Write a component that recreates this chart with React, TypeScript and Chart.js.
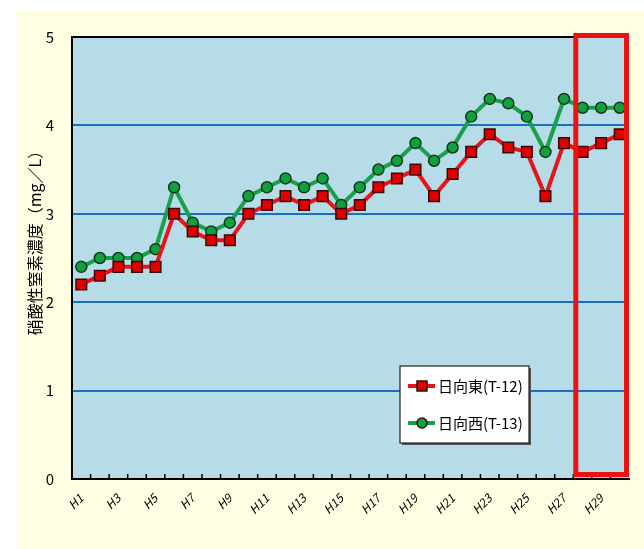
import React, { useEffect, useRef } from "react";
import { Chart, registerables } from "chart.js";

Chart.register(...registerables);

const years: string[] = [
  "H1","H2","H3","H4","H5","H6","H7","H8","H9","H10",
  "H11","H12","H13","H14","H15","H16","H17","H18","H19","H20",
  "H21","H22","H23","H24","H25","H26","H27","H28","H29","H30",
];
const eastLabel = "日向東(T-12)";
const westLabel = "日向西(T-13)";
const eastValues: number[] = [
  2.2, 2.3, 2.4, 2.4, 2.4, 3.0, 2.8, 2.7, 2.7, 3.0,
  3.1, 3.2, 3.1, 3.2, 3.0, 3.1, 3.3, 3.4, 3.5, 3.2,
  3.45, 3.7, 3.9, 3.75, 3.7, 3.2, 3.8, 3.7, 3.8, 3.9,
];
const westValues: number[] = [
  2.4, 2.5, 2.5, 2.5, 2.6, 3.3, 2.9, 2.8, 2.9, 3.2,
  3.3, 3.4, 3.3, 3.4, 3.1, 3.3, 3.5, 3.6, 3.8, 3.6,
  3.75, 4.1, 4.3, 4.25, 4.1, 3.7, 4.3, 4.2, 4.2, 4.2,
];
const yTitle = "硝酸性窒素濃度（mg／L）";
const highlightFrom = 27; // index of H28
const highlightTo = 29; // index of H30

const RED = "#e8141b";
const GREEN = "#18a04c";
const FONT = "'Noto Sans CJK JP', 'Noto Sans', sans-serif";

const decorPlugin = {
  id: "decor",
  beforeDraw(chart: any) {
    const { ctx, chartArea } = chart;
    ctx.save();
    ctx.fillStyle = "#ffffff";
    ctx.fillRect(0, 0, chart.width, chart.height);
    ctx.fillStyle = "#fffde2";
    ctx.fillRect(17, 10, chart.width - 17, chart.height - 10);
    ctx.fillStyle = "#b6dce8";
    ctx.fillRect(chartArea.left, chartArea.top, chartArea.right - chartArea.left, chartArea.bottom - chartArea.top);
    ctx.restore();
  },
  afterDatasetsDraw(chart: any) {
    const { ctx, chartArea, scales } = chart;
    const xs = scales.x;
    ctx.save();
    // top border
    ctx.strokeStyle = "#000";
    ctx.lineWidth = 2;
    ctx.beginPath();
    ctx.moveTo(chartArea.left, chartArea.top);
    ctx.lineTo(chartArea.right, chartArea.top);
    ctx.stroke();
    // inner tick marks at category boundaries
    const step = xs.getPixelForValue(1) - xs.getPixelForValue(0);
    ctx.lineWidth = 1.5;
    ctx.beginPath();
    for (let i = 1; i < years.length; i++) {
      const px = xs.getPixelForValue(i) - step / 2;
      ctx.moveTo(px, chartArea.bottom);
      ctx.lineTo(px, chartArea.bottom - 5);
    }
    ctx.stroke();
    // highlight box
    const bx0 = xs.getPixelForValue(highlightFrom) - step / 2;
    const bx1 = xs.getPixelForValue(highlightTo) + step / 2;
    const lw = 5;
    ctx.strokeStyle = "#ee1111";
    ctx.lineWidth = lw;
    ctx.strokeRect(bx0 + lw / 2, chartArea.top - 4 + lw / 2, bx1 - bx0 - lw, chartArea.bottom - chartArea.top + 2 - lw);
    // y title
    ctx.fillStyle = "#000";
    ctx.font = `16px ${FONT}`;
    ctx.textAlign = "center";
    ctx.textBaseline = "middle";
    ctx.translate(35, 239);
    ctx.rotate(-Math.PI / 2);
    ctx.fillText(yTitle, 0, 0);
    ctx.restore();

    // legend
    ctx.save();
    const lx = 400, ly = 366, lwid = 129, lh = 77;
    ctx.fillStyle = "#555555";
    ctx.fillRect(lx + 2, ly + 2, lwid, lh);
    ctx.fillStyle = "#ffffff";
    ctx.fillRect(lx, ly, lwid, lh);
    ctx.strokeStyle = "#222";
    ctx.lineWidth = 1.2;
    ctx.strokeRect(lx, ly, lwid, lh);
    const rows = [
      { label: eastLabel, color: RED, style: "rect", y: ly + 20 },
      { label: westLabel, color: GREEN, style: "circle", y: ly + 57 },
    ];
    rows.forEach((r) => {
      ctx.strokeStyle = r.color;
      ctx.lineWidth = 4;
      ctx.beginPath();
      ctx.moveTo(lx + 8, r.y);
      ctx.lineTo(lx + 35, r.y);
      ctx.stroke();
      ctx.fillStyle = r.style === "rect" ? "#e00000" : "#10a040";
      ctx.strokeStyle = "#2a1010";
      ctx.lineWidth = 1.5;
      if (r.style === "rect") {
        ctx.fillRect(lx + 17, r.y - 5, 10, 10);
        ctx.strokeRect(lx + 17, r.y - 5, 10, 10);
      } else {
        ctx.beginPath();
        ctx.arc(lx + 22, r.y, 5, 0, Math.PI * 2);
        ctx.fill();
        ctx.stroke();
      }
      ctx.fillStyle = "#000";
      ctx.font = `15px ${FONT}`;
      ctx.textAlign = "left";
      ctx.textBaseline = "middle";
      ctx.fillText(r.label, lx + 38, r.y);
    });
    ctx.restore();
  },
};

export default function App() {
  const ref = useRef<HTMLCanvasElement | null>(null);
  useEffect(() => {
    document.body.style.margin = "0";
    const canvas = ref.current;
    if (!canvas) return;
    const chart = new Chart(canvas, {
      type: "line",
      data: {
        labels: years,
        datasets: [
          {
            label: eastLabel,
            data: eastValues,
            borderColor: RED,
            backgroundColor: "#e00000",
            borderWidth: 4,
            pointStyle: "rect",
            pointRadius: 7.5,
            pointBorderColor: "#3a0a0a",
            pointBorderWidth: 1.5,
            tension: 0,
          },
          {
            label: westLabel,
            data: westValues,
            borderColor: GREEN,
            backgroundColor: "#10a040",
            borderWidth: 4,
            pointStyle: "circle",
            pointRadius: 5.5,
            pointBorderColor: "#123a1a",
            pointBorderWidth: 1.5,
            tension: 0,
          },
        ],
      },
      options: {
        responsive: false,
        animation: false,
        devicePixelRatio: 1,
        layout: { padding: { left: 0, top: 37, right: 15, bottom: 0 } },
        plugins: {
          legend: { display: false },
          tooltip: { enabled: false },
          title: { display: false },
        },
        scales: {
          x: {
            offset: true,
            grid: { display: false, drawTicks: false },
            border: { display: true, color: "#000", width: 2 },
            ticks: {
              autoSkip: false,
              maxRotation: 45,
              minRotation: 45,
              padding: 12,
              color: "#000",
              font: { family: FONT, size: 12, style: "italic" },
              callback: (_v: any, i: number) => (i % 2 === 0 ? years[i] : ""),
            },
            afterFit: (s: any) => {
              s.height = 70;
            },
          },
          y: {
            min: 0,
            max: 5,
            ticks: {
              stepSize: 1,
              padding: 18,
              color: "#000",
              font: { family: FONT, size: 15 },
            },
            grid: {
              drawTicks: false,
              lineWidth: 2,
              color: (c: any) =>
                c.tick && c.tick.value > 0 && c.tick.value < 5 ? "#1b6fc2" : "rgba(0,0,0,0)",
            },
            border: { display: true, color: "#000", width: 2 },
            afterFit: (s: any) => {
              s.width = 72;
            },
          },
        },
      },
      plugins: [decorPlugin],
    });
    return () => chart.destroy();
  }, []);
  return (
    <div style={{ width: 644, height: 549 }}>
      <canvas ref={ref} width={644} height={549} style={{ display: "block" }} />
    </div>
  );
}
